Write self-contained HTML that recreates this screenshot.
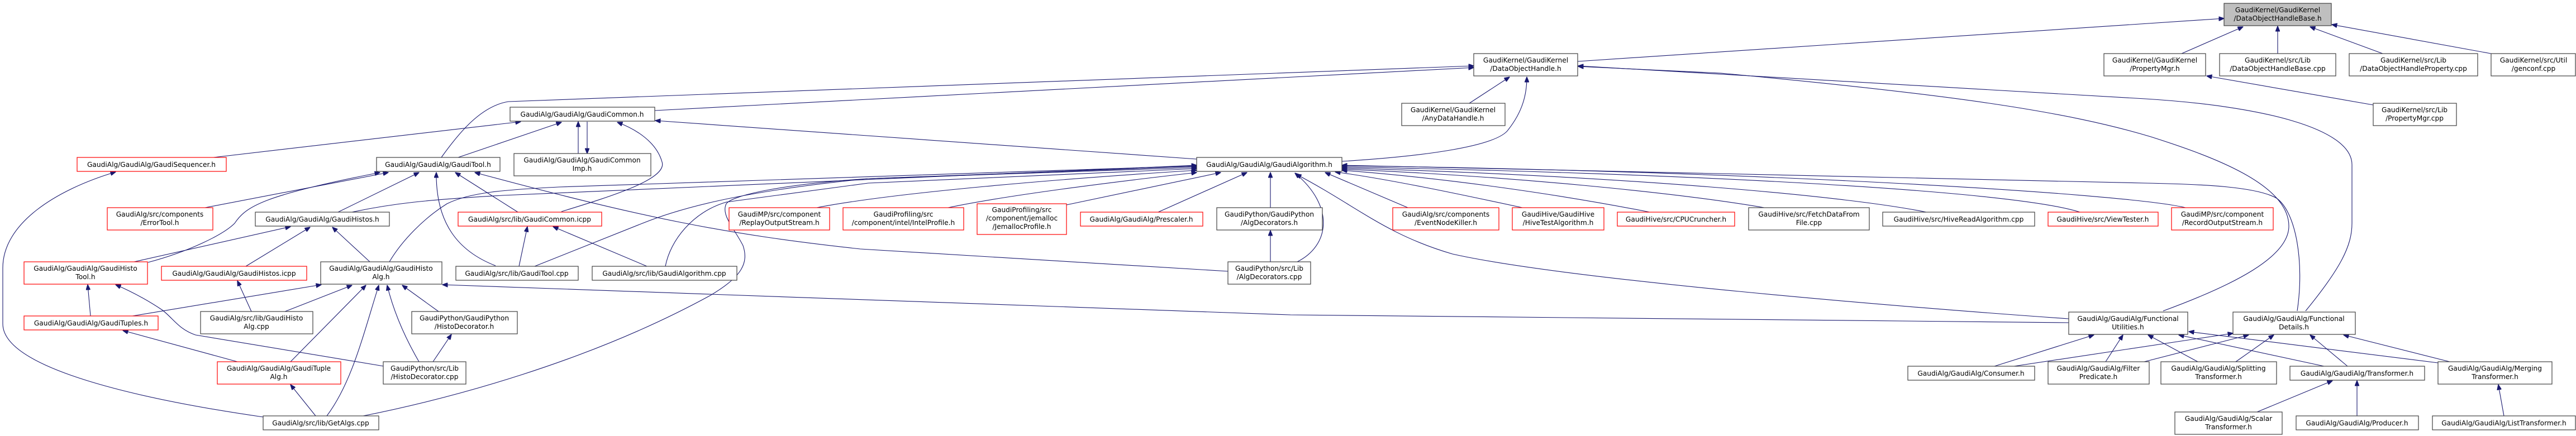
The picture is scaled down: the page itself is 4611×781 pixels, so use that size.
<!DOCTYPE html>
<html><head><meta charset="utf-8"><style>
html,body{margin:0;padding:0;background:#fff;}
svg{display:block;}
text{font-family:"DejaVu Sans","Liberation Sans",sans-serif;font-size:12.2px;fill:#000;text-anchor:middle;}
.n{fill:#fff;stroke:#404040;stroke-width:1.2;}
.r{fill:#fff;stroke:#ff0000;stroke-width:1.2;}
.g{fill:#bfbfbf;stroke:#404040;stroke-width:1.2;}
.e{fill:none;stroke:#191970;stroke-width:1.1;marker-end:url(#a);}
</style></head><body>
<svg width="4611" height="781" viewBox="0 0 4611 781" xmlns="http://www.w3.org/2000/svg">
<defs><marker id="a" markerWidth="10" markerHeight="8" refX="9.5" refY="4" orient="auto" markerUnits="userSpaceOnUse"><path d="M0,0 L10,4 L0,8 z" fill="#191970" stroke="#191970"/></marker></defs>

<g>
<path class="e" d="M2824,110 L3981,33"/>
<path class="e" d="M3905,96 L4015,48"/>
<path class="e" d="M4077,96 L4077,47"/>
<path class="e" d="M4265,96 L4135,48"/>
<path class="e" d="M4459,96 L4174,44"/>
<path class="e" d="M4248,188 L3950,136"/>

<path class="e" d="M790,282 C820,240 860,190 910,182 L2638,118"/>
<path class="e" d="M1172,198 L2638,121"/>
<path class="e" d="M2630,185 L2702,138"/>
<path class="e" d="M2402,289 C2550,280 2680,262 2700,232 C2725,200 2733,170 2733,138"/>
<path class="e" d="M4127,557 C4190,480 4210,440 4210,400 L4210,295 C4210,230 4050,190 3840,177 L2825,118"/>
<path class="e" d="M3872,557 C4000,510 4097,460 4097,405 C4097,330 3960,280 3850,245 C3700,200 3500,170 3080,131 L2825,119"/>

<path class="e" d="M382,282 L932,218"/>
<path class="e" d="M820,282 L1005,219"/>
<path class="e" d="M1035,275 L1035,218"/>
<path class="e" d="M1051,218 L1051,275"/>
<path class="e" d="M1005,379 C1100,350 1195,320 1185,290 C1175,255 1140,232 1105,219"/>
<path class="e" d="M2142,285 L1173,216"/>

<path class="e" d="M367,372 L695,309"/>
<path class="e" d="M265,470 C340,450 400,420 420,400 C440,370 470,350 680,309"/>
<path class="e" d="M605,380 L750,309"/>
<path class="e" d="M887,476 C820,450 780,400 781,309"/>
<path class="e" d="M927,380 L815,309"/>
<path class="e" d="M2199,486 L1540,446 C1300,420 1150,390 850,309"/>

<path class="e" d="M240,469 L520,406"/>
<path class="e" d="M440,477 L555,407"/>
<path class="e" d="M662,469 L595,407"/>
<path class="e" d="M630,380 C700,365 760,358 900,350 L2142,296"/>

<path class="e" d="M237,566 L575,510"/>
<path class="e" d="M510,558 L630,511"/>
<path class="e" d="M520,648 L655,511"/>
<path class="e" d="M585,745 C630,685 650,600 678,511"/>
<path class="e" d="M750,648 C725,605 705,560 693,511"/>
<path class="e" d="M785,558 L720,511"/>
<path class="e" d="M3703,578 L2310,564 L792,510"/>
<path class="e" d="M697,469 C720,430 760,390 800,365 C840,345 900,340 1000,335 L2142,297"/>

<path class="e" d="M162,566 L157,510"/>
<path class="e" d="M687,656 L350,600 C320,590 310,570 290,555 C260,535 235,522 207,510"/>
<path class="e" d="M425,648 L220,592"/>
<path class="e" d="M565,745 L520,689"/>
<path class="e" d="M471,747 C250,715 5,660 5,580 L5,480 C5,400 100,340 207,308"/>
<path class="e" d="M650,745 C800,715 1050,650 1270,530 C1330,495 1340,470 1330,440 C1315,410 1290,385 1300,365 C1310,350 1400,330 1554,320 L2142,300"/>

<path class="e" d="M929,477 L944,406"/>
<path class="e" d="M1158,477 L990,406"/>

<path class="e" d="M957,477 C1050,440 1100,420 1150,400 C1200,380 1300,345 1554,320 L2142,298"/>
<path class="e" d="M1191,477 C1200,430 1240,380 1300,362 L1554,328 L2142,302"/>
<path class="e" d="M1462,372 C1600,345 1900,320 2142,305"/>
<path class="e" d="M1697,372 C1800,350 2000,325 2142,309"/>
<path class="e" d="M1909,367 L2185,309"/>
<path class="e" d="M2073,380 L2232,309"/>
<path class="e" d="M2274,372 L2274,309"/>
<path class="e" d="M2322,469 C2380,440 2390,370 2318,310"/>
<path class="e" d="M2520,372 L2372,309"/>
<path class="e" d="M2725,372 C2600,345 2480,320 2390,308"/>
<path class="e" d="M2953,380 C2800,350 2600,320 2402,305"/>
<path class="e" d="M3158,372 C3000,345 2700,315 2402,303"/>
<path class="e" d="M3448,380 C3300,350 2900,315 2402,301"/>
<path class="e" d="M3723,380 C3600,340 3000,310 2402,299"/>
<path class="e" d="M3912,372 C3800,345 3100,305 2402,297"/>
<path class="e" d="M3703,571 C3400,550 2800,500 2600,455 C2480,420 2430,370 2320,312"/>
<path class="e" d="M4112,557 C4125,470 4110,380 4075,355 C4040,335 3950,330 3840,328 L2402,296"/>

<path class="e" d="M3570,656 L3748,600"/>
<path class="e" d="M3769,648 L3800,600"/>
<path class="e" d="M3934,648 L3845,600"/>
<path class="e" d="M4160,656 L3900,600"/>
<path class="e" d="M4364,650 L3918,594"/>
<path class="e" d="M3605,656 L3997,597"/>
<path class="e" d="M3838,648 L4025,600"/>
<path class="e" d="M4002,648 L4070,600"/>
<path class="e" d="M4202,656 L4135,600"/>
<path class="e" d="M4385,648 L4195,600"/>
<path class="e" d="M4040,738 L4175,682"/>
<path class="e" d="M4219,745 L4219,682"/>
<path class="e" d="M4482,745 L4472,689"/>
<path class="e" d="M2274,469 L2274,413"/>
<path class="e" d="M775,648 L808,599"/>
<path class="e" d="M450,558 L425,503"/>
</g>

<rect class="g" x="3981" y="6" width="192" height="40"/><text x="4077" y="22">GaudiKernel/GaudiKernel</text><text x="4077" y="37">/DataObjectHandleBase.h</text>
<rect class="n" x="2638" y="96" width="186" height="40"/><text x="2731" y="112">GaudiKernel/GaudiKernel</text><text x="2731" y="127">/DataObjectHandle.h</text>
<rect class="n" x="3766" y="96" width="182" height="40"/><text x="3857" y="112">GaudiKernel/GaudiKernel</text><text x="3857" y="127">/PropertyMgr.h</text>
<rect class="n" x="3973" y="96" width="208" height="40"/><text x="4077" y="112">GaudiKernel/src/Lib</text><text x="4077" y="127">/DataObjectHandleBase.cpp</text>
<rect class="n" x="4205" y="96" width="230" height="40"/><text x="4320" y="112">GaudiKernel/src/Lib</text><text x="4320" y="127">/DataObjectHandleProperty.cpp</text>
<rect class="n" x="4459" y="96" width="151" height="40"/><text x="4535" y="112">GaudiKernel/src/Util</text><text x="4535" y="127">/genconf.cpp</text>
<rect class="n" x="4248" y="185" width="149" height="40"/><text x="4322" y="201">GaudiKernel/src/Lib</text><text x="4322" y="216">/PropertyMgr.cpp</text>
<rect class="n" x="2509" y="185" width="185" height="40"/><text x="2601" y="201">GaudiKernel/GaudiKernel</text><text x="2601" y="216">/AnyDataHandle.h</text>

<rect class="n" x="913" y="192" width="259" height="25"/><text x="1042" y="209">GaudiAlg/GaudiAlg/GaudiCommon.h</text>
<rect class="n" x="920" y="275" width="245" height="40"/><text x="1042" y="291">GaudiAlg/GaudiAlg/GaudiCommon</text><text x="1042" y="306">Imp.h</text>
<rect class="r" x="138" y="282" width="267" height="25"/><text x="271" y="299">GaudiAlg/GaudiAlg/GaudiSequencer.h</text>
<rect class="n" x="674" y="282" width="221" height="25"/><text x="784" y="299">GaudiAlg/GaudiAlg/GaudiTool.h</text>
<rect class="n" x="2142" y="282" width="260" height="25"/><text x="2272" y="299">GaudiAlg/GaudiAlg/GaudiAlgorithm.h</text>

<rect class="r" x="192" y="372" width="189" height="40"/><text x="286" y="388">GaudiAlg/src/components</text><text x="286" y="403">/ErrorTool.h</text>
<rect class="n" x="457" y="380" width="240" height="25"/><text x="577" y="397">GaudiAlg/GaudiAlg/GaudiHistos.h</text>
<rect class="r" x="820" y="380" width="257" height="25"/><text x="948" y="397">GaudiAlg/src/lib/GaudiCommon.icpp</text>
<rect class="r" x="1305" y="372" width="180" height="40"/><text x="1395" y="388">GaudiMP/src/component</text><text x="1395" y="403">/ReplayOutputStream.h</text>
<rect class="r" x="1509" y="372" width="216" height="40"/><text x="1617" y="388">GaudiProfiling/src</text><text x="1617" y="403">/component/intel/IntelProfile.h</text>
<rect class="r" x="1749" y="365" width="160" height="55"/><text x="1829" y="380">GaudiProfiling/src</text><text x="1829" y="395">/component/jemalloc</text><text x="1829" y="410">/JemallocProfile.h</text>
<rect class="r" x="1934" y="380" width="219" height="25"/><text x="2043" y="397">GaudiAlg/GaudiAlg/Prescaler.h</text>
<rect class="n" x="2178" y="372" width="189" height="40"/><text x="2272" y="388">GaudiPython/GaudiPython</text><text x="2272" y="403">/AlgDecorators.h</text>
<rect class="r" x="2493" y="372" width="190" height="40"/><text x="2588" y="388">GaudiAlg/src/components</text><text x="2588" y="403">/EventNodeKiller.h</text>
<rect class="r" x="2707" y="372" width="164" height="40"/><text x="2789" y="388">GaudiHive/GaudiHive</text><text x="2789" y="403">/HiveTestAlgorithm.h</text>
<rect class="r" x="2895" y="380" width="210" height="25"/><text x="3000" y="397">GaudiHive/src/CPUCruncher.h</text>
<rect class="n" x="3130" y="372" width="216" height="40"/><text x="3238" y="388">GaudiHive/src/FetchDataFrom</text><text x="3238" y="403">File.cpp</text>
<rect class="n" x="3370" y="380" width="272" height="25"/><text x="3506" y="397">GaudiHive/src/HiveReadAlgorithm.cpp</text>
<rect class="r" x="3666" y="380" width="197" height="25"/><text x="3764" y="397">GaudiHive/src/ViewTester.h</text>
<rect class="r" x="3887" y="372" width="182" height="40"/><text x="3978" y="388">GaudiMP/src/component</text><text x="3978" y="403">/RecordOutputStream.h</text>

<rect class="r" x="43" y="469" width="221" height="40"/><text x="153" y="485">GaudiAlg/GaudiAlg/GaudiHisto</text><text x="153" y="500">Tool.h</text>
<rect class="r" x="289" y="477" width="260" height="25"/><text x="419" y="494">GaudiAlg/GaudiAlg/GaudiHistos.icpp</text>
<rect class="n" x="574" y="469" width="217" height="40"/><text x="682" y="485">GaudiAlg/GaudiAlg/GaudiHisto</text><text x="682" y="500">Alg.h</text>
<rect class="n" x="816" y="477" width="219" height="25"/><text x="925" y="494">GaudiAlg/src/lib/GaudiTool.cpp</text>
<rect class="n" x="1060" y="477" width="259" height="25"/><text x="1189" y="494">GaudiAlg/src/lib/GaudiAlgorithm.cpp</text>
<rect class="n" x="2198" y="469" width="148" height="40"/><text x="2272" y="485">GaudiPython/src/Lib</text><text x="2272" y="500">/AlgDecorators.cpp</text>

<rect class="r" x="43" y="566" width="240" height="25"/><text x="163" y="583">GaudiAlg/GaudiAlg/GaudiTuples.h</text>
<rect class="n" x="359" y="558" width="201" height="40"/><text x="459" y="574">GaudiAlg/src/lib/GaudiHisto</text><text x="459" y="589">Alg.cpp</text>
<rect class="n" x="737" y="558" width="189" height="40"/><text x="831" y="574">GaudiPython/GaudiPython</text><text x="831" y="589">/HistoDecorator.h</text>
<rect class="n" x="3703" y="559" width="213" height="40"/><text x="3809" y="575">GaudiAlg/GaudiAlg/Functional</text><text x="3809" y="590">Utilities.h</text>
<rect class="n" x="3997" y="559" width="219" height="40"/><text x="4106" y="575">GaudiAlg/GaudiAlg/Functional</text><text x="4106" y="590">Details.h</text>

<rect class="r" x="389" y="648" width="221" height="40"/><text x="499" y="664">GaudiAlg/GaudiAlg/GaudiTuple</text><text x="499" y="679">Alg.h</text>
<rect class="n" x="686" y="648" width="148" height="40"/><text x="760" y="664">GaudiPython/src/Lib</text><text x="760" y="679">/HistoDecorator.cpp</text>
<rect class="n" x="3415" y="656" width="227" height="25"/><text x="3528" y="673">GaudiAlg/GaudiAlg/Consumer.h</text>
<rect class="n" x="3666" y="648" width="181" height="40"/><text x="3756" y="664">GaudiAlg/GaudiAlg/Filter</text><text x="3756" y="679">Predicate.h</text>
<rect class="n" x="3868" y="648" width="207" height="40"/><text x="3971" y="664">GaudiAlg/GaudiAlg/Splitting</text><text x="3971" y="679">Transformer.h</text>
<rect class="n" x="4099" y="656" width="241" height="25"/><text x="4219" y="673">GaudiAlg/GaudiAlg/Transformer.h</text>
<rect class="n" x="4364" y="648" width="204" height="40"/><text x="4466" y="664">GaudiAlg/GaudiAlg/Merging</text><text x="4466" y="679">Transformer.h</text>

<rect class="n" x="471" y="745" width="207" height="25"/><text x="574" y="762">GaudiAlg/src/lib/GetAlgs.cpp</text>
<rect class="n" x="3893" y="738" width="192" height="40"/><text x="3989" y="754">GaudiAlg/GaudiAlg/Scalar</text><text x="3989" y="769">Transformer.h</text>
<rect class="n" x="4110" y="745" width="219" height="25"/><text x="4219" y="762">GaudiAlg/GaudiAlg/Producer.h</text>
<rect class="n" x="4354" y="745" width="256" height="25"/><text x="4482" y="762">GaudiAlg/GaudiAlg/ListTransformer.h</text>
</svg>
</body></html>
